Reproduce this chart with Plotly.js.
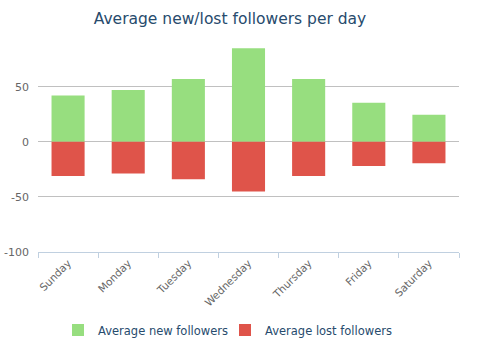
<!DOCTYPE html>
<html>
<head>
<meta charset="utf-8">
<script src="https://cdn.plot.ly/plotly-3.0.1.min.js"></script>
<style>html,body{margin:0;padding:0;background:#fff;}#chart{width:492px;height:355px;}</style>
</head>
<body>
<div id="chart"></div>
<script>
const days = ["Sunday", "Monday", "Tuesday", "Wednesday", "Thursday", "Friday", "Saturday"];
const newFollowers = [42, 47, 57, 85, 57, 35.5, 24.7];
const lostFollowers = [-31, -28.7, -34, -45, -31, -22, -19.3];
const seriesNames = ["Average new followers", "Average lost followers"];
const yTickVals = [-100, -50, 0, 50];
const yTickText = ["-100", "-50", "0", "50"];

const FONT = "'DejaVu Sans', Verdana, sans-serif";

const traces = [
  { type: "bar", x: days, y: newFollowers, name: seriesNames[0],
    marker: { color: "#97de7f", line: { width: 0 } }, hoverinfo: "x+y" },
  { type: "bar", x: days, y: lostFollowers, name: seriesNames[1],
    marker: { color: "#df544a", line: { width: 0 } }, hoverinfo: "x+y" }
];

const layout = {
  width: 492, height: 355,
  paper_bgcolor: "#fff", plot_bgcolor: "#fff",
  margin: { l: 37.5, r: 32.7, t: 40, b: 103, pad: 0 },
  barmode: "relative",
  bargap: 0.45,
  font: { family: FONT, color: "#666", size: 11 },
  title: { text: "Average new/lost followers per day", font: { family: FONT, size: 15.5, color: "#274b6d" },
           x: 230 / 492, xref: "container", xanchor: "center", y: 1 - 19 / 355, yref: "container", yanchor: "middle" },
  xaxis: {
    type: "category", tickangle: -45, tickson: "boundaries", ticks: "outside", ticklen: 5,
    tickcolor: "#C0D0E0", showline: true, linecolor: "#C0D0E0", linewidth: 1, showgrid: false,
    tickfont: { family: FONT, size: 10.5, color: "#666" }, fixedrange: true
  },
  yaxis: {
    range: [-100, 92.5], tickvals: yTickVals, ticktext: yTickText,
    showgrid: true, gridcolor: "#c0c0c0", gridwidth: 1,
    zeroline: true, zerolinecolor: "#c0c0c0", zerolinewidth: 1,
    showline: false, ticks: "", ticklabelstandoff: 8,
    tickfont: { family: FONT, size: 11, color: "#666" }, fixedrange: true
  },
  showlegend: true,
  legend: {
    orientation: "h", x: 225 / 492, xref: "container", xanchor: "center",
    y: 1 - 330 / 355, yref: "container", yanchor: "middle",
    entrywidth: 122, entrywidthmode: "pixels", itemwidth: 30,
    font: { family: FONT, size: 11.5, color: "#274b6d" }, traceorder: "normal"
  }
};

Plotly.newPlot("chart", traces, layout, { displayModeBar: false, staticPlot: true });
</script>
</body>
</html>
